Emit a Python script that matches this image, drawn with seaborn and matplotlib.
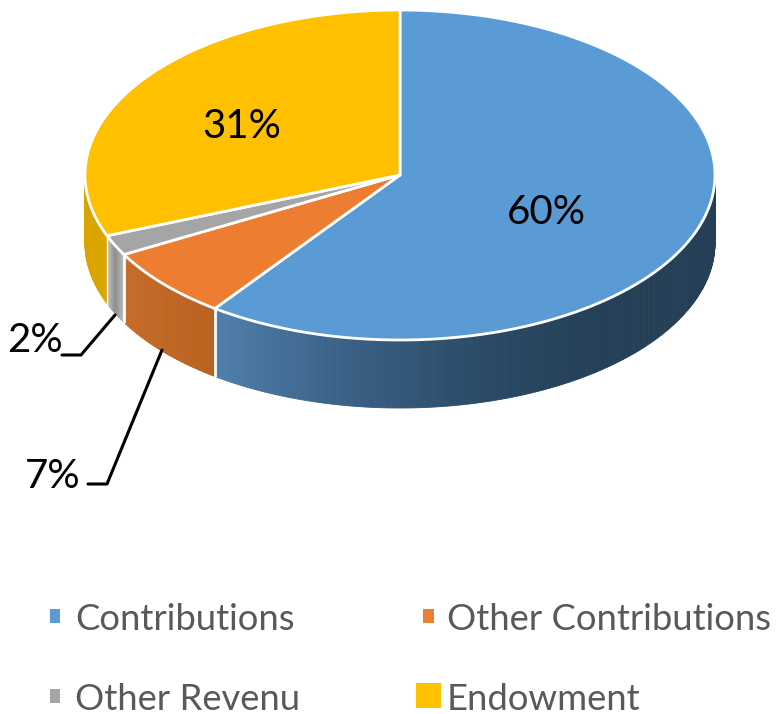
import numpy as np
import seaborn as sns
import matplotlib.pyplot as plt
from matplotlib.patches import Rectangle

# data
categories = ["Contributions", "Other Contributions", "Other Revenu", "Endowment"]
shares = [60, 7, 2, 31]
colors = ["#5B9BD5", "#ED7D31", "#A5A5A5", "#FFC000"]
# ramps run clockwise round the rim, so right to left along the front
side_ramps = [
    ["#243F56", "#243F56", "#243F56", "#2A4A66", "#3A6186", "#4F7FAB"],
    ["#B96220", "#C66C2B"],
    ["#BDBDBD", "#8C8C8C", "#BDBDBD"],
    ["#DCA600", "#D9A300"],
]

sns.set_theme(style="white")
plt.rcParams["font.family"] = ["Lato", "DejaVu Sans"]

fig = plt.figure(figsize=(7.79, 7.14), dpi=100)
ax = fig.add_axes([0, 0, 1, 1])
ax.set_xlim(0, 779)
ax.set_ylim(714, 0)
ax.axis("off")

# pie geometry in pixels
cx, cy = 400, 175
rx, ry = 315, 165
depth = 68


def rim(t):
    return cx + rx * np.sin(t), cy - ry * np.cos(t)


edges = np.radians(np.cumsum([0] + shares) * 3.6)

# side wall, only the front half is visible
for i in range(len(shares)):
    a = max(edges[i], np.pi / 2)
    b = min(edges[i + 1], 3 * np.pi / 2)
    if b <= a:
        continue
    n = max(int(np.degrees(b - a) * 2), 4)
    ramp = sns.blend_palette(side_ramps[i], n)
    ts = np.linspace(a, b, n + 1)
    for j in range(n):
        x, y = rim(ts[j:j + 2])
        ax.fill(np.r_[x, x[::-1]], np.r_[y, y[::-1] + depth],
                color=ramp[j], lw=0.6, zorder=2)

# white seams on the side wall
for t in edges[1:3]:
    x, y = rim(t)
    ax.plot([x, x], [y, y + depth], color="white", lw=2, zorder=3)
x, y = rim(edges[3])
ax.plot([x, x], [y, y + depth], color="white", lw=1, zorder=3)

# top face
for i in range(len(shares)):
    ts = np.linspace(edges[i], edges[i + 1], 200)
    x, y = rim(ts)
    ax.fill(np.r_[cx, x], np.r_[cy, y], facecolor=colors[i], edgecolor="white",
            lw=2, joinstyle="miter", zorder=4)

# value labels
ax.text(546, 212, f"{shares[0]}%", fontsize=29, color="black", ha="center", va="center", zorder=6)
ax.text(242, 126, f"{shares[3]}%", fontsize=29, color="black", ha="center", va="center", zorder=6)
ax.text(35, 340, f"{shares[2]}%", fontsize=29, color="black", ha="center", va="center", zorder=6)
ax.text(53, 476, f"{shares[1]}%", fontsize=29, color="black", ha="center", va="center", zorder=6)

# leader lines
ax.plot([62, 81, 115], [355, 355, 315], color="black", lw=2.2, zorder=5)
ax.plot([88, 107, 162], [484, 484, 350], color="black", lw=2.2, zorder=5)

# legend
swatches = [(50, 609, 10, 14), (423, 609, 11, 14), (50, 689, 10, 14), (416, 683, 25, 25)]
text_pos = [(75, 619), (447, 619), (75, 699), (447, 699)]
for name, col, sw, pos in zip(categories, colors, swatches, text_pos):
    ax.add_patch(Rectangle(sw[:2], sw[2], sw[3], facecolor=col, edgecolor="none"))
    ax.text(pos[0], pos[1], name, fontsize=26.2, color="#595959", ha="left", va="center")

fig.savefig("out.png", dpi=100, facecolor="white")
